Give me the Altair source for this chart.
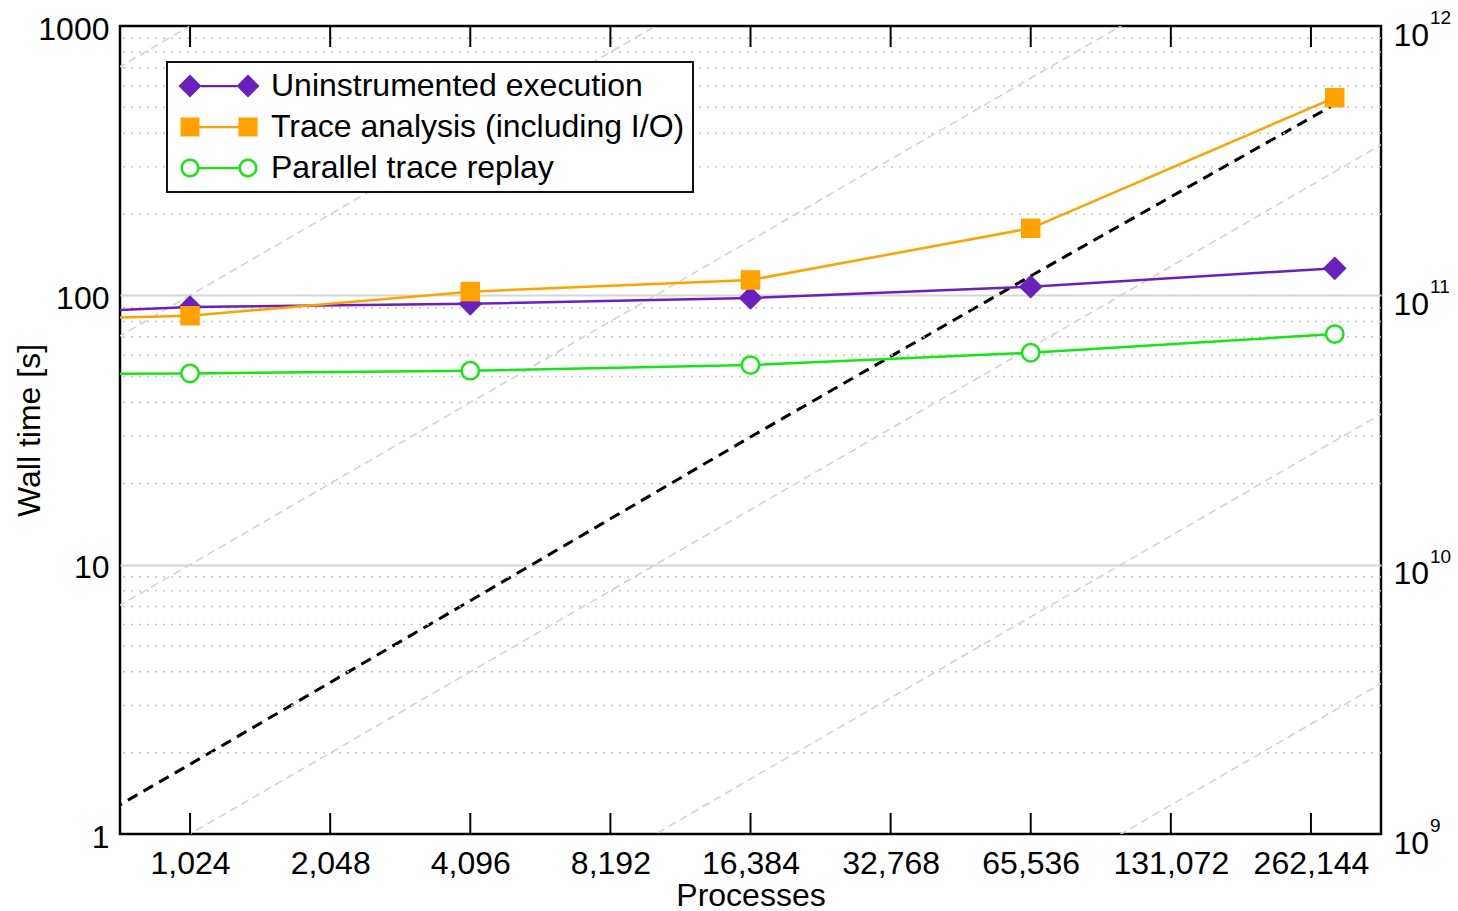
import altair as alt
import pandas as pd

# ---------------- data ----------------
procs = [512, 1024, 4096, 16384, 65536, 294912]
uninstrumented = [86.0, 90.5, 93.0, 97.8, 107.7, 126.0]
trace_analysis = [81.5, 84.0, 103.2, 114.0, 177.4, 542.0]
parallel_replay = [51.0, 51.3, 52.5, 55.1, 61.2, 71.8]
# black dashed series, right axis
events = [0.91e9, 1.815e9, 7.35e9, 29.8e9, 118e9, 512e9]

series_names = ["Uninstrumented execution", "Trace analysis (including I/O)", "Parallel trace replay"]
series_colors = ["#6a1fbf", "#ffa200", "#14e614"]

x_ticks = [1024, 2048, 4096, 8192, 16384, 32768, 65536, 131072, 262144]
y_ticks = [1, 10, 100, 1000]
y_minor = [2, 3, 4, 5, 6, 7, 8, 9, 20, 30, 40, 50, 60, 70, 80, 90,
           200, 300, 400, 500, 600, 700, 800, 900]
right_ticks = [1e9, 1e10, 1e11, 1e12]
right_exponents = ["9", "10", "11", "12"]

# gray dashed reference lines (linear scaling), end points
ref_procs = [512, 524288]
ref_start = [0.005, 0.05, 0.5, 5, 50, 500]
ref_end = [5.12, 51.2, 512, 5120, 51200, 512000]

# ---------------- tables ----------------
values_by_series = [uninstrumented, trace_analysis, parallel_replay]
rows = []
for name, vals in zip(series_names, values_by_series):
    for p, v in zip(procs, vals):
        rows.append({"procs": p, "val": v, "series": name})
df = pd.DataFrame(rows)

ev_df = pd.DataFrame({"procs": procs, "ev": events})
exp_df = pd.DataFrame({"ev": right_ticks, "exp": right_exponents})

ref_rows = []
for i, (a, b) in enumerate(zip(ref_start, ref_end)):
    ref_rows.append({"procs": ref_procs[0], "val": a, "k": i})
    ref_rows.append({"procs": ref_procs[1], "val": b, "k": i})
ref_df = pd.DataFrame(ref_rows)

minor_df = pd.DataFrame({"val": y_minor})
tick_bottom_df = pd.DataFrame({"procs": x_ticks, "val": [y_ticks[0]] * len(x_ticks), "val2": [y_ticks[0]] * len(x_ticks)})
tick_top_df = pd.DataFrame({"procs": x_ticks, "val": [y_ticks[-1]] * len(x_ticks), "val2": [y_ticks[-1]] * len(x_ticks)})

# ---------------- layout ----------------
W, H = 1261, 808
FONT = "Liberation Sans"
FS = 32

x_scale = alt.Scale(type="log", base=2, domain=[724.077, 370727.6], nice=False, zero=False)
x_axis = alt.Axis(values=x_ticks, labelExpr="format(datum.value, ',')", ticks=False, domain=False,
                  grid=False, labelFontSize=FS, labelPadding=14, labelColor="black",
                  labelOverlap=False, labelFlush=False, title="Processes", titleFontSize=FS,
                  titleFontWeight="normal", titleColor="black", titleBaseline="alphabetic", titleY=71)
x_enc = alt.X("procs:Q", scale=x_scale, axis=x_axis)

y_scale = alt.Scale(type="log", domain=[1, 1000], nice=False, zero=False)
y_axis = alt.Axis(values=y_ticks, format="d", ticks=False, domain=False, grid=True,
                  gridColor="#d6d6d6", gridWidth=2, orient="left",
                  gridOpacity={"condition": {"test": "datum.value <= 1 || datum.value >= 1000", "value": 0},
                               "value": 1},
                  labelFontSize=FS, labelPadding=11, labelColor="black", labelOffset=3,
                  labelOverlap=False, labelFlush=False,
                  title="Wall time [s]", titleFontSize=FS, titleFontWeight="normal", titleColor="black",
                  titleAngle=270, titleBaseline="alphabetic", titleX=-81, titleY=H / 2)
y_enc = alt.Y("val:Q", scale=y_scale, axis=y_axis)

ev_scale = alt.Scale(type="log", domain=[1e9, 1e12], nice=False, zero=False)
ev_axis = alt.Axis(values=right_ticks, labelExpr="'10'", orient="right", ticks=False, domain=False,
                   grid=False, labelFontSize=FS, labelPadding=12, labelColor="black", labelOffset=9,
                   labelOverlap=False, labelFlush=False, title=None)
ev_enc = alt.Y("ev:Q", scale=ev_scale, axis=ev_axis)

# ---------------- right-axis group ----------------
ev_line = alt.Chart(ev_df).mark_line(color="black", strokeWidth=3, strokeDash=[11, 7], clip=True).encode(
    x=x_enc, y=ev_enc)
ev_exp = alt.Chart(exp_df).mark_text(align="left", baseline="alphabetic", dx=49, dy=-2,
                                     fontSize=19, font=FONT, color="black").encode(
    x=alt.value(W), y=ev_enc, text="exp:N")
right_group = alt.layer(ev_line, ev_exp)

# ---------------- left-axis group ----------------
minor = alt.Chart(minor_df).mark_rule(color="#c4c4c4", strokeWidth=1.5, strokeDash=[2, 6]).encode(y=y_enc)

refs = alt.Chart(ref_df).mark_line(color="#d2d2d2", strokeWidth=1.5, strokeDash=[8, 5], clip=True).encode(
    x=x_enc, y=y_enc, detail="k:N")

shapes = ["diamond", "square", "circle"]
sizes = [560, 380, 300]
layers = [minor, refs]
for name, col, shp, sz in zip(series_names, series_colors, shapes, sizes):
    sub = df[df["series"] == name]
    layers.append(alt.Chart(sub).mark_line(color=col, strokeWidth=2.5, clip=True).encode(x=x_enc, y=y_enc))
for name, col, shp, sz in zip(series_names, series_colors, shapes, sizes):
    sub = df[df["series"] == name]
    fill = "white" if shp == "circle" else col
    sw = 2.5 if shp == "circle" else 0
    layers.append(alt.Chart(sub).mark_point(shape=shp, size=sz, filled=False, fill=fill, stroke=col,
                                            strokeWidth=sw, opacity=1, clip=True).encode(x=x_enc, y=y_enc))

ticks_b = alt.Chart(tick_bottom_df).mark_rule(color="black", strokeWidth=2, y2Offset=-21).encode(
    x=x_enc, y=y_enc, y2="val2:Q")
ticks_t = alt.Chart(tick_top_df).mark_rule(color="black", strokeWidth=2, y2Offset=21).encode(
    x=x_enc, y=y_enc, y2="val2:Q")
layers += [ticks_b, ticks_t]

# legend symbols: line with a marker at both ends (unit = 15 px, size 900)
p_diamond = ("M-2.7,0L-1.9333,-0.7667L-1.1667,0L-1.9333,0.7667Z"
             "M1.1667,0L1.9333,-0.7667L2.7,0L1.9333,0.7667Z"
             "M-1.2,-0.075L1.2,-0.075L1.2,0.075L-1.2,0.075Z")
p_square = ("M-2.5667,-0.6333L-1.3,-0.6333L-1.3,0.6333L-2.5667,0.6333Z"
            "M1.3,-0.6333L2.5667,-0.6333L2.5667,0.6333L1.3,0.6333Z"
            "M-1.3,-0.075L1.3,-0.075L1.3,0.075L-1.3,0.075Z")
def ring(cx):
    R, r = 0.6333, 0.4667
    return (f"M{cx - R},0A{R},{R} 0 1,1 {cx + R},0A{R},{R} 0 1,1 {cx - R},0Z"
            f"M{cx - r},0A{r},{r} 0 1,0 {cx + r},0A{r},{r} 0 1,0 {cx - r},0Z")
p_circle = ring(-1.9333) + ring(1.9333) + "M-1.3,-0.075L1.3,-0.075L1.3,0.075L-1.3,0.075Z"

legend = alt.Legend(orient="none", legendX=47, legendY=36, title=None, padding=8,
                    strokeColor="#111111", fillColor="white", labelFontSize=FS, labelFont=FONT,
                    labelColor="black", labelLimit=0, labelOffset=36, symbolOffset=28, rowPadding=9,
                    symbolStrokeWidth=0, symbolSize=900)
legend_layer = alt.Chart(df).transform_filter("datum.val < 0").mark_point(
    filled=True, size=900, opacity=1, strokeWidth=0).encode(
    x=x_enc, y=y_enc,
    color=alt.Color("series:N", scale=alt.Scale(domain=series_names, range=series_colors), legend=legend),
    shape=alt.Shape("series:N", scale=alt.Scale(domain=series_names, range=[p_diamond, p_square, p_circle]),
                    legend=legend),
)
layers.append(legend_layer)

left_group = alt.layer(*layers)

chart = alt.layer(right_group, left_group).resolve_scale(y="independent").properties(
    width=W, height=H,
    autosize=alt.AutoSizeParams(type="none"),
    padding={"left": 120, "top": 26, "right": 77, "bottom": 77},
    background="white",
).configure(font=FONT).configure_view(stroke="black", strokeWidth=2.5).configure_legend(strokeWidth=2)

chart.save("out.html", embed_options={"renderer": "svg", "actions": False})
